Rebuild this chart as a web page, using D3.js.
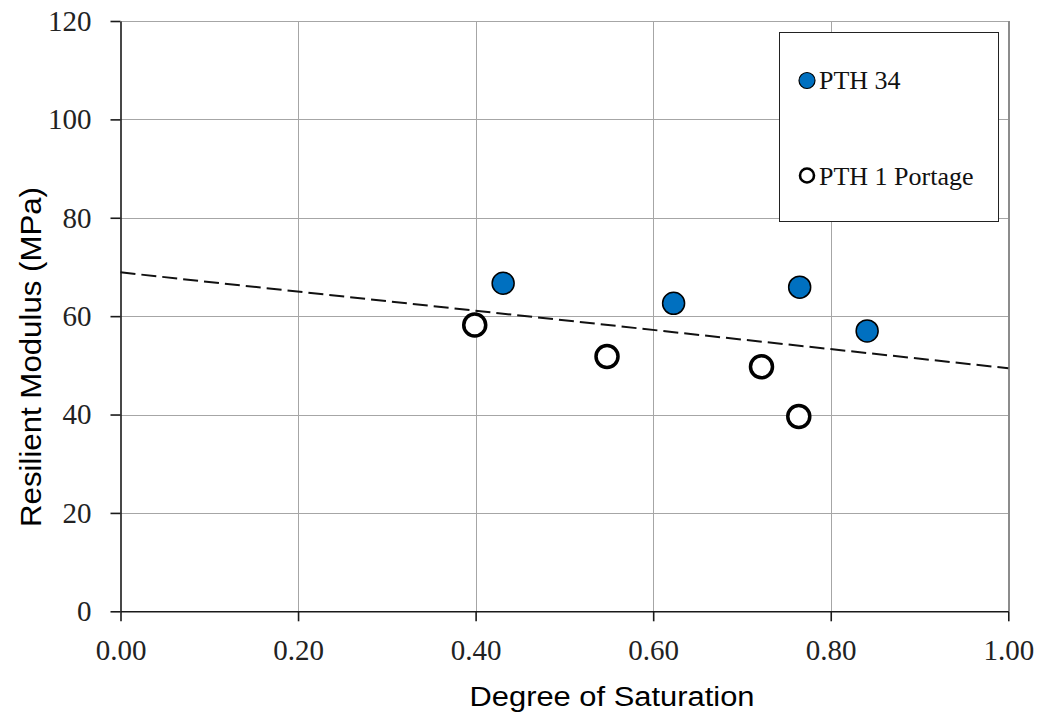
<!DOCTYPE html>
<html>
<head>
<meta charset="utf-8">
<title>Resilient Modulus vs Degree of Saturation</title>
<style>
body { margin: 0; background: #fff; }
.grid line { stroke: #a6a6a6; stroke-width: 1px; shape-rendering: crispEdges; }
.grid line.edge { stroke: #8c8c8c; stroke-width: 2px; }
.axis path, .axis line { stroke: #1a1a1a; stroke-width: 1.6px; }
.axis text { font-family: "Liberation Serif", "Times New Roman", serif; font-size: 29px; fill: #222; }
.title { font-family: "Liberation Sans", Arial, sans-serif; font-size: 27px; fill: #000; }
.legend text { font-family: "Liberation Serif", "Times New Roman", serif; font-size: 26px; fill: #111; }
path.trend { fill: none; stroke: #111; stroke-width: 2px; stroke-dasharray: 15,6; }
</style>
</head>
<body>
<script src="https://cdn.jsdelivr.net/npm/d3@7"></script>
<script>
// values
var pth34Sat = [0.431, 0.623, 0.765, 0.841];
var pth34Mr = [66.7, 62.6, 65.9, 57.0];
var portageSat = [0.399, 0.548, 0.722, 0.764];
var portageMr = [58.2, 51.8, 49.7, 39.6];
var trendSat = [0, 1];
var trendMr = [68.9, 49.4];
var xTicks = [0, 0.2, 0.4, 0.6, 0.8, 1.0];
var yTicks = [0, 20, 40, 60, 80, 100, 120];
var seriesNames = ["PTH 34", "PTH 1 Portage"];

var width = 1040, height = 717;
var plotLeft = 120.5, plotRight = 1008.3, plotTop = 21, plotBottom = 611.3;

var x = d3.scaleLinear().domain([0, 1]).range([plotLeft, plotRight]);
var y = d3.scaleLinear().domain([0, 120]).range([plotBottom, plotTop]);

var svg = d3.select("body").append("svg")
  .attr("width", width)
  .attr("height", height);

// gridlines
var grid = svg.append("g").attr("class", "grid");
grid.selectAll("line.h")
  .data(yTicks.filter(function(d) { return d > 0; }))
  .enter().append("line")
  .attr("class", "h")
  .attr("x1", plotLeft).attr("x2", plotRight)
  .attr("y1", function(d) { return Math.round(y(d)) + 0.5; })
  .attr("y2", function(d) { return Math.round(y(d)) + 0.5; });
grid.selectAll("line.v")
  .data(xTicks.filter(function(d) { return d > 0; }))
  .enter().append("line")
  .attr("class", function(d) { return d === 1 ? "v edge" : "v"; })
  .attr("x1", function(d) { return Math.round(x(d)) + 0.5; })
  .attr("x2", function(d) { return Math.round(x(d)) + 0.5; })
  .attr("y1", plotTop).attr("y2", plotBottom);

// axes
svg.append("g")
  .attr("class", "axis")
  .attr("transform", "translate(" + plotLeft + ",0)")
  .call(d3.axisLeft(y)
    .tickValues(yTicks)
    .tickSize(10)
    .tickSizeOuter(0)
    .tickPadding(19)
    .tickFormat(d3.format("d")));

svg.append("g")
  .attr("class", "axis")
  .attr("transform", "translate(0," + plotBottom + ")")
  .call(d3.axisBottom(x)
    .tickValues(xTicks)
    .tickSize(10)
    .tickSizeOuter(0)
    .tickPadding(18)
    .tickFormat(d3.format(".2f")));

// trend line
var trend = trendSat.map(function(s, i) { return [s, trendMr[i]]; });
svg.append("path")
  .datum(trend)
  .attr("class", "trend")
  .attr("d", d3.line()
    .x(function(d) { return x(d[0]); })
    .y(function(d) { return y(d[1]); }));

// PTH 1 Portage (open circles)
svg.append("g").selectAll("circle")
  .data(portageSat.map(function(s, i) { return [s, portageMr[i]]; }))
  .enter().append("circle")
  .attr("cx", function(d) { return x(d[0]); })
  .attr("cy", function(d) { return y(d[1]); })
  .attr("r", 11)
  .style("fill", "#fff")
  .style("stroke", "#000")
  .style("stroke-width", 3.5);

// PTH 34 (blue)
svg.append("g").selectAll("circle")
  .data(pth34Sat.map(function(s, i) { return [s, pth34Mr[i]]; }))
  .enter().append("circle")
  .attr("cx", function(d) { return x(d[0]); })
  .attr("cy", function(d) { return y(d[1]); })
  .attr("r", 11)
  .style("fill", "#0070c0")
  .style("stroke", "#000")
  .style("stroke-width", 1.5);

// axis titles
svg.append("text")
  .attr("class", "title")
  .attr("x", 612)
  .attr("y", 706)
  .attr("text-anchor", "middle")
  .attr("textLength", 285)
  .attr("lengthAdjust", "spacingAndGlyphs")
  .text("Degree of Saturation");

svg.append("text")
  .attr("class", "title")
  .attr("transform", "translate(41,357) rotate(-90)")
  .attr("text-anchor", "middle")
  .attr("textLength", 340)
  .attr("lengthAdjust", "spacingAndGlyphs")
  .style("font-size", "30px")
  .text("Resilient Modulus (MPa)");

// legend
var legend = svg.append("g").attr("class", "legend");
legend.append("rect")
  .attr("x", 779.5).attr("y", 32.5)
  .attr("width", 219).attr("height", 189)
  .style("fill", "#fff")
  .style("stroke", "#222")
  .style("stroke-width", 1);

legend.append("circle")
  .attr("cx", 807).attr("cy", 80.5).attr("r", 8)
  .style("fill", "#0070c0").style("stroke", "#000").style("stroke-width", 1.2);
legend.append("text")
  .attr("x", 819).attr("y", 88.5)
  .text(seriesNames[0]);

legend.append("circle")
  .attr("cx", 807).attr("cy", 175.5).attr("r", 7)
  .style("fill", "#fff").style("stroke", "#000").style("stroke-width", 2.6);
legend.append("text")
  .attr("x", 819).attr("y", 184.5)
  .text(seriesNames[1]);
</script>
</body>
</html>
